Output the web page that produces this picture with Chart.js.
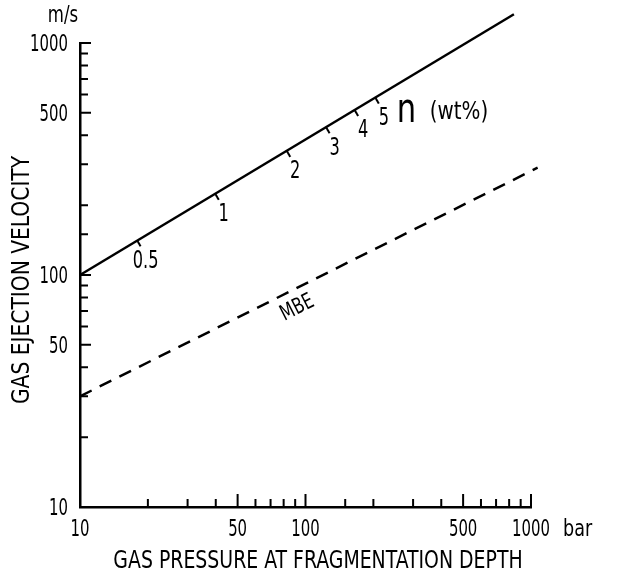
<!DOCTYPE html>
<html>
<head>
<meta charset="utf-8">
<script src="https://cdn.jsdelivr.net/npm/chart.js@4/dist/chart.umd.min.js"></script>
<style>
  body { margin: 0; background: #fff; }
  canvas { display: block; }
</style>
</head>
<body>
<canvas id="myChart" width="618" height="576"></canvas>
<script>
// gas ejection velocity vs gas pressure, log-log
const FONT = '"Liberation Sans Narrow", "DejaVu Sans Condensed", "Arial Narrow", sans-serif';

// solid line (labelled with water content n)
const nLinePressure = [10, 840];
const nLineVelocity = [100, 1330];
// marks on the solid line
const nLabels = ["0.5", "1", "2", "3", "4", "5"];
const nPressure = [18, 40, 83, 124, 166, 205];
const nVelocity = [140, 222, 340, 430, 510, 577];
// dashed MBE line
const mbePressure = [10, 1070];
const mbeVelocity = [30, 290];
// labelled ticks
const xTickLabels = [10, 50, 100, 500, 1000];
const yTickLabels = [10, 50, 100, 500, 1000];

const toPoints = (xs, ys) => xs.map((x, i) => ({ x: x, y: ys[i] }));

// small stub that hangs under the line (used as point style)
const stub = document.createElement("canvas");
stub.width = 14;
stub.height = 14;
const sctx = stub.getContext("2d");
sctx.strokeStyle = "#000";
sctx.lineWidth = 2;
sctx.beginPath();
sctx.moveTo(7, 6);
sctx.lineTo(7, 13);
sctx.stroke();

// the original lettering is tall and narrow, so squeeze it sideways
const drawText = (ctx, str, x, y, size, align, squeeze, angle) => {
  ctx.save();
  ctx.translate(x, y);
  if (angle) ctx.rotate(angle * Math.PI / 180);
  ctx.scale(squeeze, 1);
  ctx.font = size + "px " + FONT;
  ctx.textAlign = align;
  ctx.textBaseline = "middle";
  ctx.fillText(str, 0, 0);
  ctx.restore();
};

// draws inward tick marks, tick labels, the line annotations and axis titles
const inkPlugin = {
  id: "ink",
  afterDraw(chart) {
    const ctx = chart.ctx;
    const area = chart.chartArea;
    const xs = chart.scales.x;
    const ys = chart.scales.y;
    ctx.save();
    ctx.strokeStyle = "#000";
    ctx.fillStyle = "#000";
    ctx.lineWidth = 2;
    ctx.beginPath();
    xs.ticks.forEach((t) => {
      const px = xs.getPixelForValue(t.value);
      const len = xTickLabels.includes(t.value) ? 13 : 8;
      ctx.moveTo(px, area.bottom);
      ctx.lineTo(px, area.bottom - len);
    });
    ys.ticks.forEach((t) => {
      const py = ys.getPixelForValue(t.value);
      const len = yTickLabels.includes(t.value) ? 11 : 8;
      ctx.moveTo(area.left, py);
      ctx.lineTo(area.left + len, py);
    });
    ctx.stroke();

    // tick labels
    xTickLabels.forEach((v) => {
      drawText(ctx, String(v), xs.getPixelForValue(v), area.bottom + 23, 23, "center", 0.72);
    });
    yTickLabels.forEach((v) => {
      drawText(ctx, String(v), area.left - 12, ys.getPixelForValue(v) + 2, 23, "right", 0.72);
    });

    // n labels under the marks
    const marks = chart.getDatasetMeta(2).data;
    marks.forEach((p, i) => {
      drawText(ctx, nLabels[i], p.x + 8, p.y + 20, 25, "center", 0.72);
    });
    const last = marks[marks.length - 1];
    drawText(ctx, "n", last.x + 21, last.y + 13, 40, "left", 0.85);
    drawText(ctx, "(wt%)", last.x + 54, last.y + 14, 24, "left", 0.92);

    // MBE label along the dashed line
    drawText(ctx, "MBE", xs.getPixelForValue(92), ys.getPixelForValue(72), 22, "center", 0.8, -27);

    // units
    drawText(ctx, "m/s", 63, 16, 23, "center", 0.8);
    drawText(ctx, "bar", xs.getPixelForValue(1000) + 32, area.bottom + 23, 23, "left", 0.85);

    // axis titles
    drawText(ctx, "GAS PRESSURE AT FRAGMENTATION DEPTH", 318, 561, 25, "center", 0.84);
    drawText(ctx, "GAS EJECTION VELOCITY", 22, 280, 25, "center", 0.9, -90);
    ctx.restore();
  },
};

const ctx = document.getElementById("myChart").getContext("2d");
const myChart = new Chart(ctx, {
  type: "scatter",
  data: {
    datasets: [
      {
        data: toPoints(nLinePressure, nLineVelocity),
        showLine: true,
        borderColor: "#000",
        borderWidth: 2.5,
        pointRadius: 0,
        clip: false,
      },
      {
        data: toPoints(mbePressure, mbeVelocity),
        showLine: true,
        borderColor: "#000",
        borderWidth: 2.5,
        borderDash: [13, 9],
        pointRadius: 0,
        clip: false,
      },
      {
        data: toPoints(nPressure, nVelocity),
        showLine: false,
        pointStyle: stub,
        rotation: -30,
        pointRadius: 7,
      },
    ],
  },
  options: {
    responsive: false,
    animation: false,
    layout: { padding: { top: 43, right: 87, left: 0, bottom: 0 } },
    plugins: { legend: { display: false }, tooltip: { enabled: false } },
    scales: {
      x: {
        type: "logarithmic",
        min: 10,
        max: 1000,
        border: { display: true, color: "#000", width: 2.5 },
        grid: { display: true, drawOnChartArea: false, drawTicks: false },
        ticks: { display: false, autoSkip: false },
        afterFit: (scale) => {
          scale.height = 69;
        },
      },
      y: {
        type: "logarithmic",
        min: 10,
        max: 1000,
        border: { display: true, color: "#000", width: 2.5 },
        grid: { display: true, drawOnChartArea: false, drawTicks: false },
        ticks: { display: false, autoSkip: false },
        afterFit: (scale) => {
          scale.width = 80;
        },
      },
    },
  },
  plugins: [inkPlugin],
});
</script>
</body>
</html>
